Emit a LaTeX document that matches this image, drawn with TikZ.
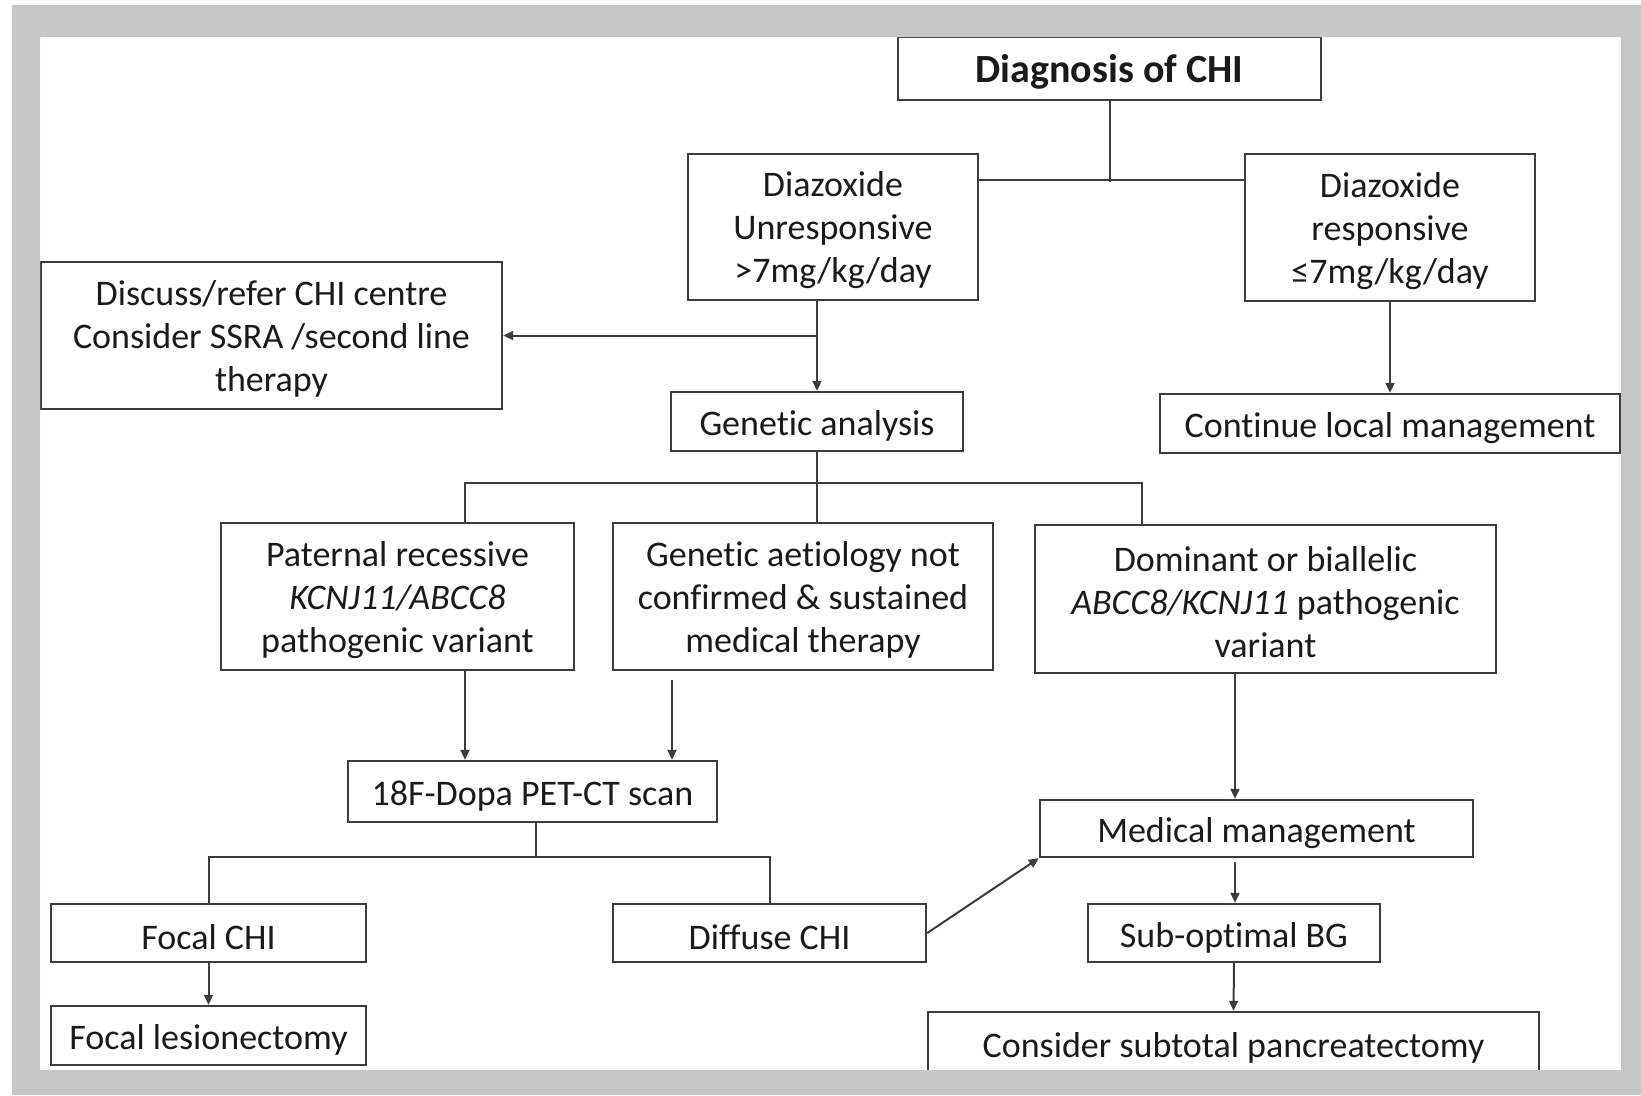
\documentclass[tikz,border=0pt]{standalone}
\usepackage{fontspec}
\setmainfont{Carlito}[Ligatures=NoCommon]
\usetikzlibrary{arrows.meta}
\definecolor{framegray}{HTML}{C6C6C6}
\definecolor{linegray}{HTML}{3C3C3C}
\definecolor{txt}{HTML}{1A1A1A}
\newcommand{\dropstrut}{\rule{0pt}{32pt}}
\begin{document}
\begin{tikzpicture}[x=1pt,y=-1pt,
  box/.style={draw=linegray, line width=2.4pt, fill=white, align=center, inner sep=0pt, text=txt,
    font=\fontsize{36}{43}\selectfont, execute at begin node={\rule{0pt}{34pt}}},
  conn/.style={draw=linegray, line width=2pt},
  arr/.style={conn, -{Triangle[length=10pt,width=9pt]}},
]
\useasboundingbox (0,0) rectangle (1641,1095);
\fill[white] (0,0) rectangle (1641,1095);

% nodes
\node[box, minimum width=423pt, minimum height=63pt, font=\fontsize{40}{46}\selectfont\bfseries] (diag) at (1109.5,68.5) {Diagnosis of CHI};
\node[box, minimum width=290pt, minimum height=146pt] (unresp) at (833,227) {\dropstrut Diazoxide\\Unresponsive\\>7mg/kg/day};
\node[box, minimum width=290pt, minimum height=147pt] (resp) at (1390,227.5) {\dropstrut Diazoxide\\responsive\\≤7mg/kg/day};
\node[box, minimum width=461pt, minimum height=147pt] (discuss) at (271.5,335.5) {\dropstrut Discuss/refer CHI centre\\Consider SSRA /second line\\therapy};
\node[box, minimum width=292pt, minimum height=59pt] (genetic) at (817,421.5) {Genetic analysis};
\node[box, minimum width=460pt, minimum height=59pt] (contin) at (1390,423.5) {Continue local management};
\node[box, minimum width=353pt, minimum height=147pt] (paternal) at (397.5,596.5) {\dropstrut Paternal recessive\\\textit{KCNJ11/ABCC8}\\pathogenic variant};
\node[box, minimum width=380pt, minimum height=147pt] (aetiol) at (803,596.5) {\dropstrut Genetic aetiology not\\confirmed \& sustained\\medical therapy};
\node[box, minimum width=461pt, minimum height=148pt] (domin) at (1265.5,599) {\dropstrut Dominant or biallelic\\\textit{ABCC8/KCNJ11} pathogenic\\variant};
\node[box, minimum width=369pt, minimum height=61pt] (pet) at (532.5,791.5) {18F-Dopa PET-CT scan};
\node[box, minimum width=433pt, minimum height=57pt] (medman) at (1256.5,828.5) {Medical management};
\node[box, minimum width=315pt, minimum height=58pt] (focal) at (208.5,933) {Focal CHI};
\node[box, minimum width=315pt, minimum height=59pt] (lesion) at (208.5,1035.5) {Focal lesionectomy};
\node[box, minimum width=313pt, minimum height=58pt] (diffuse) at (769.5,933) {Diffuse CHI};
\node[box, minimum width=292pt, minimum height=58pt] (subopt) at (1234,933) {Sub-optimal BG};
\node[box, minimum width=611pt, minimum height=62pt] (pancr) at (1233.5,1043) {Consider subtotal pancreatectomy};

% connectors
\coordinate (j1) at (1109.5,182);
\coordinate (h1) at (0,180);
\draw[conn] (diag.south) -- (j1);
\draw[conn] (unresp.east |- h1) -- (resp.west |- h1);

\draw[arr] (genetic.north |- unresp.south) -- (genetic.north);
\draw[arr] (genetic.north |- discuss.east) -- (discuss.east);
\draw[arr] (resp.south) -- (contin.north);

\coordinate (h2) at (465,483);
\coordinate (h3) at (1142,483);
\draw[conn] (genetic.south) -- (genetic.south |- aetiol.north);
\draw[conn] (h2 |- paternal.north) -- (h2) -- (h3) -- (h3 |- domin.north);

\draw[arr] (h2 |- paternal.south) -- (h2 |- pet.north);
\coordinate (a1) at (672,680);
\draw[arr] (a1) -- (a1 |- pet.north);
\coordinate (d1) at (1235,0);
\draw[arr] (d1 |- domin.south) -- (d1 |- medman.north);

\coordinate (p1) at (536,857);
\draw[conn] (p1 |- pet.south) -- (p1);
\draw[conn] (focal.north) -- (focal.north |- p1) -- (diffuse.north |- p1) -- (diffuse.north);
\draw[arr] (focal.south) -- (lesion.north);
\draw[arr] (diffuse.east) -- (medman.south west);
\coordinate (m1) at (1235,862);
\draw[arr] (m1) -- (m1 |- subopt.north);
\draw[arr] (subopt.south) -- (pancr.north);

% grey frame on top
\fill[framegray, even odd rule] (12,5) rectangle (1641,1095) (40,37) rectangle (1621,1070);
\end{tikzpicture}
\end{document}
